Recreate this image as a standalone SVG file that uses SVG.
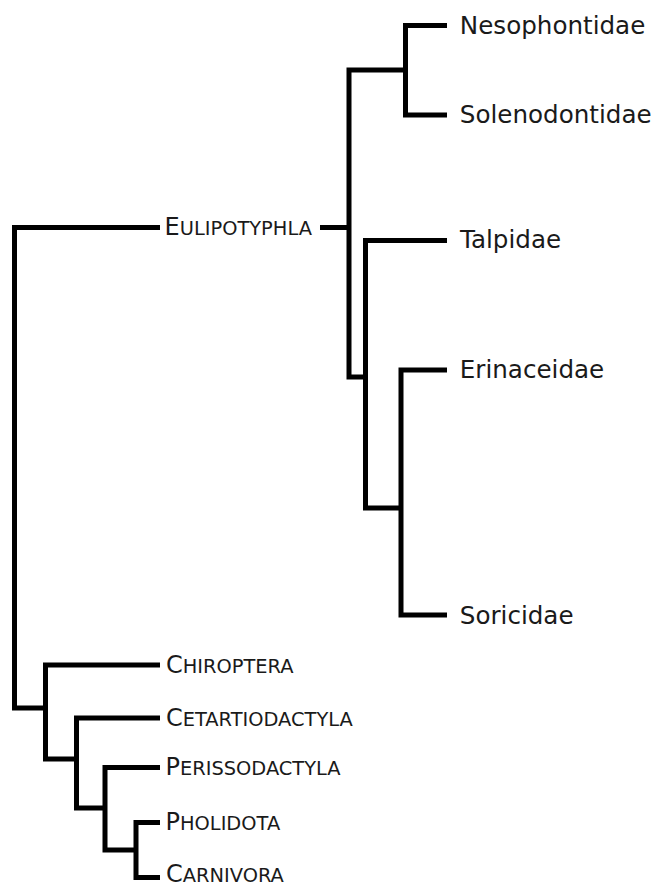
<svg xmlns="http://www.w3.org/2000/svg" width="657" height="888" viewBox="0 0 657 888">
<style>
.e{fill:none;stroke:#000;stroke-width:5;stroke-linejoin:miter;stroke-linecap:butt}
.t{font-family:"DejaVu Sans",Verdana,sans-serif;font-size:24px;fill:#1a1a1a}
.r{font-size:24.6px}
.sc{font-size:19.4px}
</style>
<rect width="657" height="888" fill="#fff"/>
<g id="connectors">
<path class="e" d="M160,227.5 H14.5 V708 H45.5"/>
<path class="e" d="M160,665 H45.5 V759 H76.5"/>
<path class="e" d="M160,718 H76.5 V808 H105"/>
<path class="e" d="M160,767.5 H105 V850 H136"/>
<path class="e" d="M160,822.5 H136 V877.5 H160"/>
<path class="e" d="M320,227.5 H349"/>
<path class="e" d="M405.5,70 H349 V377 H365.5"/>
<path class="e" d="M447,25.5 H405.5 V115 H447"/>
<path class="e" d="M447,240.5 H365.5 V508 H401"/>
<path class="e" d="M447,370 H401 V615 H447"/>
</g>
<g id="eulipotyphla"><text class="t" x="164.6" y="235">E<tspan class="sc">ULIPOTYPHLA</tspan></text></g>
<g id="nesophontidae"><text class="t r" x="459.8" y="33.5">Nesophontidae</text></g>
<g id="solenodontidae"><text class="t r" x="459.8" y="123">Solenodontidae</text></g>
<g id="talpidae"><text class="t r" x="460" y="247.5">Talpidae</text></g>
<g id="erinaceidae"><text class="t r" x="459.8" y="378">Erinaceidae</text></g>
<g id="soricidae"><text class="t r" x="459.8" y="623.5">Soricidae</text></g>
<g id="chiroptera"><text class="t" x="166" y="672.5">C<tspan class="sc">HIROPTERA</tspan></text></g>
<g id="cetartiodactyla"><text class="t" x="166" y="725.5">C<tspan class="sc">ETARTIODACTYLA</tspan></text></g>
<g id="perissodactyla"><text class="t" x="165.5" y="775">P<tspan class="sc">ERISSODACTYLA</tspan></text></g>
<g id="pholidota"><text class="t" x="165.5" y="830">P<tspan class="sc">HOLIDOTA</tspan></text></g>
<g id="carnivora"><text class="t" x="166" y="882">C<tspan class="sc">ARNIVORA</tspan></text></g>
</svg>
